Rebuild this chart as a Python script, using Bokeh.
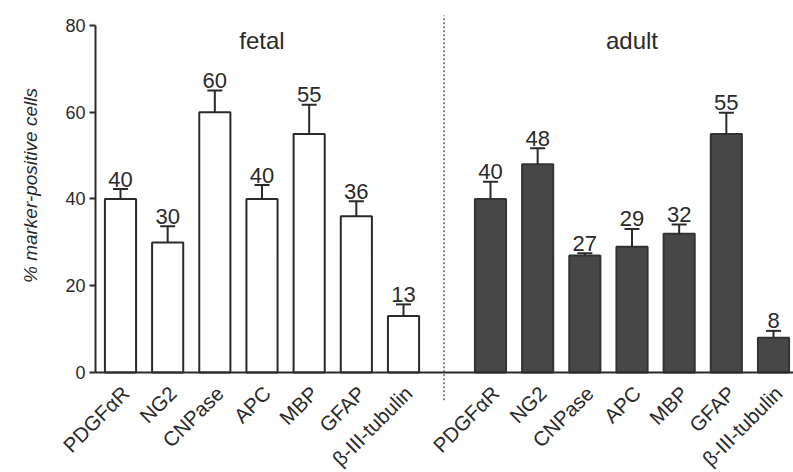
import math

from bokeh.core.properties import value
from bokeh.embed import file_html
from bokeh.models import ColumnDataSource, FixedTicker, Range1d
from bokeh.plotting import figure
from bokeh.resources import INLINE

# Marker panel and percentages of marker-positive cells (mean ± SEM)
markers = ["PDGFαR", "NG2", "CNPase", "APC", "MBP", "GFAP", "β-III-tubulin"]
fetal_pct = [40, 30, 60, 40, 55, 36, 13]
fetal_err = [2.3, 3.7, 5.0, 3.2, 6.7, 3.5, 2.7]
adult_pct = [40, 48, 27, 29, 32, 55, 8]
adult_err = [4.0, 3.7, 0.5, 4.1, 2.1, 4.9, 1.6]
groups = ["fetal", "adult"]
y_ticks = [0, 20, 40, 60, 80]

FONT = "Liberation Sans"
INK = "#2a2a2a"

# bar positions: fetal block, a gap, then the adult block
GAP = 0.844
fetal_x = [float(i) for i in range(len(markers))]
adult_x = [len(markers) + GAP + i for i in range(len(markers))]
divider_x = fetal_x[-1] + 0.86
axis_x = -0.53  # where the y axis stands, left of the first bar

fetal = ColumnDataSource(dict(
    x=fetal_x, top=fetal_pct, cap=[v + e for v, e in zip(fetal_pct, fetal_err)],
    lbl=[str(v) for v in fetal_pct]))
adult = ColumnDataSource(dict(
    x=adult_x, top=adult_pct, cap=[v + e for v, e in zip(adult_pct, adult_err)],
    lbl=[str(v) for v in adult_pct]))

# the plotting frame fills the whole canvas; axes are pinned inside it
p = figure(
    width=793, height=472,
    x_range=Range1d(-2.544, 14.268), y_range=Range1d(-23.05, 85.76),
    output_backend="svg", toolbar_location=None,
    min_border_left=0, min_border_right=0, min_border_top=0, min_border_bottom=0,
)
p.outline_line_color = None
p.grid.grid_line_color = None
p.background_fill_color = "white"
p.border_fill_color = "white"

# dotted divider between the two groups
p.segment(x0=[divider_x], y0=[-6.4], x1=[divider_x], y1=[82.3],
          line_color="#808080", line_width=2, line_dash="2 2")

BAR_W = 0.66
p.vbar(x="x", top="top", bottom=0, width=BAR_W, source=fetal,
       fill_color="white", line_color=INK, line_width=2)
p.vbar(x="x", top="top", bottom=0, width=BAR_W, source=adult,
       fill_color="#474747", line_color="#333333", line_width=2)

# upward error bars with caps and the value above each bar
for src in (fetal, adult):
    p.segment(x0="x", y0="top", x1="x", y1="cap", source=src,
              line_color=INK, line_width=2)
    p.dash(x="x", y="cap", source=src, size=15, line_width=2, line_color=INK)
    p.text(x="x", y="cap", text="lbl", source=src, text_align="center",
           text_baseline="alphabetic", y_offset=-10, text_color=INK,
           text_font=value(FONT), text_font_size="22px")

# group titles
p.text(x=[fetal_x[3], adult_x[3]], y=[76.5, 76.5], text=groups,
       text_align="center", text_baseline="alphabetic", text_color=INK,
       text_font=value(FONT), text_font_size="24px")

# slanted marker names under the zero line
all_x = fetal_x + adult_x
p.text(x=all_x, y=[0] * len(all_x), text=markers + markers,
       angle=math.pi / 4, text_align="right", text_baseline="alphabetic",
       x_offset=5, y_offset=17, text_color=INK,
       text_font=value(FONT), text_font_size="20.5px")

# y axis title
p.text(x=[-1.908], y=[43.1], text=["% marker-positive cells"], angle=math.pi / 2,
       text_align="center", text_baseline="middle", text_color=INK,
       text_font=value(FONT), text_font_style="italic", text_font_size="19px")

# y axis
ya = p.yaxis[0]
ya.fixed_location = axis_x
ya.ticker = FixedTicker(ticks=y_ticks)
ya.bounds = (0, 80)
ya.axis_line_width = 2
ya.axis_line_color = INK
ya.major_tick_line_color = INK
ya.major_tick_line_width = 2
ya.major_tick_out = 6
ya.major_tick_in = 0
ya.minor_tick_line_color = None
ya.major_label_text_font = FONT
ya.major_label_text_font_size = "18px"
ya.major_label_text_color = INK
ya.major_label_standoff = 4

# x axis: just the zero line across the plot
xa = p.xaxis[0]
xa.fixed_location = 0
xa.bounds = (axis_x, 14.268)
xa.ticker = FixedTicker(ticks=[])
xa.major_tick_line_color = None
xa.minor_tick_line_color = None
xa.major_label_text_font_size = "0px"
xa.axis_line_width = 2
xa.axis_line_color = INK

open("out.html", "w").write(file_html(p, INLINE))
